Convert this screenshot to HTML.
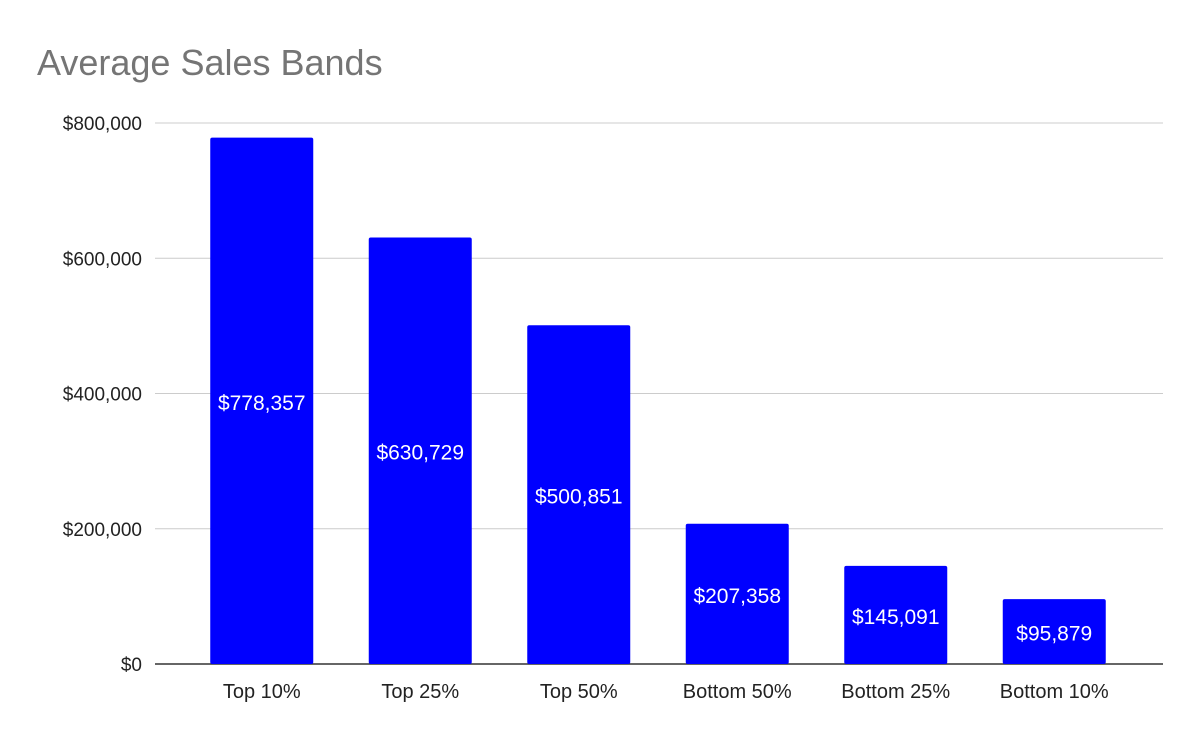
<!DOCTYPE html>
<html><head><meta charset="utf-8"><style>
body{margin:0;background:#fff;}
svg text{font-family:"Liberation Sans",Arial,sans-serif;}
</style></head><body>
<svg id="chart" width="1200" height="742" xmlns="http://www.w3.org/2000/svg">
<rect width="1200" height="742" fill="#fff"/>
<text x="37" y="75" font-size="36" fill="#757575">Average Sales Bands</text>
<g id="grid"></g><g id="bars"></g><g id="labels"></g>
</svg>
<script>
const categories=["Top 10%","Top 25%","Top 50%","Bottom 50%","Bottom 25%","Bottom 10%"];
const values=[778357,630729,500851,207358,145091,95879];
const valueLabels=["$778,357","$630,729","$500,851","$207,358","$145,091","$95,879"];
const yTicks=[0,200000,400000,600000,800000];
const yTickLabels=["$0","$200,000","$400,000","$600,000","$800,000"];
const NS="http://www.w3.org/2000/svg";
const yMax=800000, y0=664, yTop=123;
const plotL=182.5, plotR=1133.5;
function y(v){return y0-(v/yMax)*(y0-yTop);}
const band=(plotR-plotL)/categories.length;
function xc(i){return plotL+band*(i+0.5);}
function el(t,a,p){const e=document.createElementNS(NS,t);for(const k in a)e.setAttribute(k,a[k]);p.appendChild(e);return e;}
const grid=document.getElementById('grid'),bars=document.getElementById('bars'),labels=document.getElementById('labels');
yTicks.forEach((v,i)=>{
  const l=el('line',{x1:155,x2:1163,y1:y(v),y2:y(v),stroke:i===0?'#333':'#ccc','stroke-width':i===0?1.5:1},grid);
  
  
  const t=el('text',{x:142,y:y(v)+7,'text-anchor':'end','font-size':19,fill:'#222'},grid);
  t.textContent=yTickLabels[i];
  
  
});
const bw=103;
categories.forEach((c,i)=>{
  const top=y(values[i]);
  const r=el('rect',{x:xc(i)-bw/2,y:top,width:bw,height:y0-top,fill:'#0000ff',rx:2},bars);
  
  
  const vl=el('text',{x:xc(i),y:(top+y0)/2+9,'text-anchor':'middle','font-size':21,fill:'#fff'},labels);
  vl.textContent=valueLabels[i];
  
  
  const xl=el('text',{x:xc(i),y:698,'text-anchor':'middle','font-size':20,fill:'#222'},labels);
  xl.textContent=c;
  
  
});
</script>
</body></html>
